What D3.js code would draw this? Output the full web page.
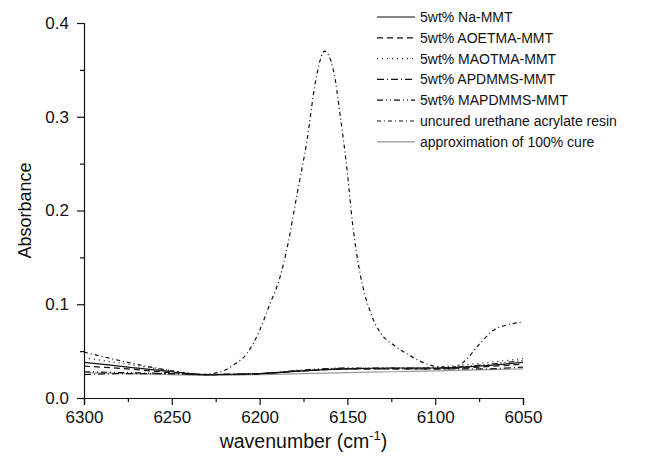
<!DOCTYPE html>
<html>
<head>
<meta charset="utf-8">
<script src="https://cdn.jsdelivr.net/npm/d3@7"></script>
<style>
  html, body { margin: 0; padding: 0; background: #fff; }
  svg { display: block; font-family: 'Liberation Sans', Arial, sans-serif; }
</style>
</head>
<body>
<svg id="chart" width="648" height="460"></svg>
<script>
// baseline series share this wavenumber grid
const baseWn = [6300, 6275, 6250, 6230, 6200, 6175, 6150, 6125, 6100, 6075, 6050];
const naMMT = [0.038, 0.033, 0.028, 0.025, 0.026, 0.029, 0.031, 0.032, 0.032, 0.034, 0.038];
const aoetmaMMT = [0.034, 0.031, 0.027, 0.025, 0.026, 0.029, 0.031, 0.031, 0.031, 0.033, 0.036];
const maotmaMMT = [0.043, 0.036, 0.029, 0.025, 0.026, 0.029, 0.032, 0.032, 0.033, 0.037, 0.042];
const apdmmsMMT = [0.025, 0.026, 0.026, 0.025, 0.026, 0.029, 0.031, 0.031, 0.031, 0.031, 0.033];
const mapdmmsMMT = [0.028, 0.027, 0.026, 0.025, 0.026, 0.030, 0.032, 0.032, 0.032, 0.035, 0.040];
const fullCure = [0.027, 0.026, 0.025, 0.024, 0.025, 0.026, 0.027, 0.028, 0.029, 0.030, 0.031];

const uncuredWn = [6300, 6275, 6250, 6235, 6224, 6215, 6207, 6200, 6194, 6189, 6184, 6179, 6173, 6168,
  6163, 6158, 6154, 6150, 6147, 6143, 6137, 6131, 6124, 6116, 6107, 6097, 6090, 6084, 6075, 6067, 6059, 6050];
const uncured = [0.049, 0.038, 0.029, 0.025, 0.027, 0.035, 0.048, 0.072, 0.101, 0.125, 0.163, 0.214, 0.275, 0.339,
  0.370, 0.350, 0.300, 0.240, 0.185, 0.135, 0.092, 0.069, 0.057, 0.047, 0.038, 0.033, 0.033, 0.038, 0.057, 0.072, 0.078, 0.081];

const labels = ['5wt% Na-MMT', '5wt% AOETMA-MMT', '5wt% MAOTMA-MMT', '5wt% APDMMS-MMT',
  '5wt% MAPDMMS-MMT', 'uncured urethane acrylate resin', 'approximation of 100% cure'];
const xTicks = [6300, 6250, 6200, 6150, 6100, 6050];
const yTicks = [0, 0.1, 0.2, 0.3, 0.4];

const dashes = ['none', '6,4', '1,4', '7,3,1,3', '6,3,1,3,1,3', '4,3,1,3', 'none'];
const colors = ['#111', '#111', '#111', '#111', '#111', '#111', '#999'];

const series = [
  { name: labels[0], wn: baseWn, v: naMMT },
  { name: labels[1], wn: baseWn, v: aoetmaMMT },
  { name: labels[2], wn: baseWn, v: maotmaMMT },
  { name: labels[3], wn: baseWn, v: apdmmsMMT },
  { name: labels[4], wn: baseWn, v: mapdmmsMMT },
  { name: labels[5], wn: uncuredWn, v: uncured },
  { name: labels[6], wn: baseWn, v: fullCure },
];

const margin = { left: 84, right: 125, top: 23, bottom: 62 };
const width = 648, height = 460;
const font = "'Liberation Sans', Arial, sans-serif";

const svg = d3.select('#chart');

const x = d3.scaleLinear().domain([6300, 6050]).range([margin.left, width - margin.right]);
const y = d3.scaleLinear().domain([0, 0.4]).range([height - margin.bottom, margin.top]);

const line = d3.line()
  .x(d => x(d[0]))
  .y(d => y(d[1]))
  .curve(d3.curveMonotoneX);

// draw gray first so black lines sit on top
const order = [6, 0, 1, 2, 3, 4, 5];
order.forEach(i => {
  const s = series[i];
  svg.append('path')
    .datum(s.wn.map((w, j) => [w, s.v[j]]))
    .attr('fill', 'none')
    .attr('stroke', colors[i])
    .attr('stroke-width', 1.2)
    .attr('stroke-dasharray', dashes[i])
    .attr('d', line);
});

// axes
svg.append('g')
  .attr('transform', `translate(0,${y(0)})`)
  .call(d3.axisBottom(x).tickValues(xTicks).tickFormat(d3.format('d')).tickSize(7).tickPadding(6));
svg.append('g')
  .attr('transform', `translate(0,${y(0)})`)
  .call(d3.axisBottom(x).tickValues([6275, 6225, 6175, 6125, 6075]).tickFormat('').tickSize(4))
  .call(g => g.select('.domain').remove());

svg.append('g')
  .attr('transform', `translate(${x(6300)},0)`)
  .call(d3.axisLeft(y).tickValues(yTicks).tickFormat(d3.format('.1f')).tickSize(7).tickPadding(8));
svg.append('g')
  .attr('transform', `translate(${x(6300)},0)`)
  .call(d3.axisLeft(y).tickValues([0.05, 0.15, 0.25, 0.35]).tickFormat('').tickSize(4))
  .call(g => g.select('.domain').remove());

svg.selectAll('.domain').attr('stroke', '#111').attr('stroke-width', 1.2);
svg.selectAll('.tick line').attr('stroke', '#111').attr('stroke-width', 1.2);
svg.selectAll('.tick text')
  .attr('font-family', font)
  .attr('font-size', 17)
  .attr('fill', '#111');

// axis titles
svg.append('text')
  .attr('x', (x(6300) + x(6050)) / 2)
  .attr('y', 448)
  .attr('text-anchor', 'middle')
  .attr('font-size', 19.5)
  .attr('fill', '#111')
  .call(t => {
    t.append('tspan').text('wavenumber (cm');
    t.append('tspan').attr('dy', -8).attr('font-size', 13).text('-1');
    t.append('tspan').attr('dy', 8).text(')');
  });

svg.append('text')
  .attr('transform', `translate(31,${(y(0) + y(0.4)) / 2}) rotate(-90)`)
  .attr('text-anchor', 'middle')
  .attr('font-size', 18)
  .attr('fill', '#111')
  .text('Absorbance');

// legend
const legend = svg.append('g').attr('transform', 'translate(377,17)');
labels.forEach((name, i) => {
  const g = legend.append('g').attr('transform', `translate(0,${i * 20.8})`);
  g.append('line')
    .attr('x1', 0).attr('x2', 38)
    .attr('stroke', colors[i])
    .attr('stroke-width', 1.2)
    .attr('stroke-dasharray', dashes[i]);
  g.append('text')
    .attr('x', 43)
    .attr('dy', '0.35em')
    .attr('font-size', 14)
    .attr('fill', '#111')
    .text(name);
});
</script>
</body>
</html>
